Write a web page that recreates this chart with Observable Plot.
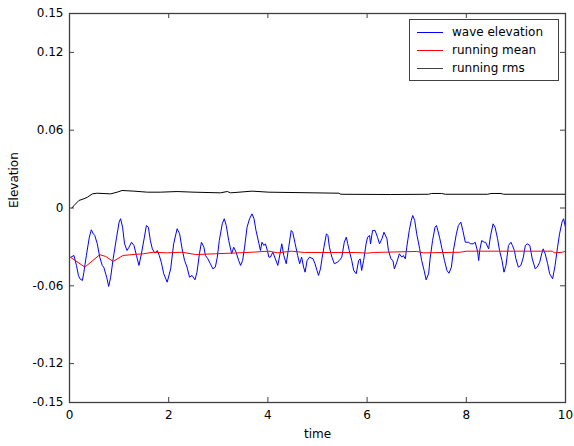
<!DOCTYPE html>
<html>
<head>
<meta charset="utf-8">
<script src="https://cdn.jsdelivr.net/npm/d3@7"></script>
<script src="https://cdn.jsdelivr.net/npm/@observablehq/plot@0.6"></script>
<style>
  html, body { margin: 0; padding: 0; background: #fff; }
  #wrap { position: relative; width: 574px; height: 446px; font-family: "DejaVu Sans", "Liberation Sans", Arial, sans-serif; }
  #legend { position: absolute; left: 409px; top: 19px; width: 150px; height: 62px; box-sizing: border-box;
            border: 1px solid #404040; background: #fff; font-size: 12px; color: #000; }
  .row { position: absolute; left: 0; height: 16px; width: 100%; }
  .swatch { position: absolute; left: 7px; top: 8px; width: 26px; height: 1px; }
  .lab { position: absolute; left: 42px; top: 0; line-height: 16px; white-space: nowrap; }
</style>
</head>
<body>
<div id="wrap"><div id="legend"></div></div>
<script>
// ---- data ----
const xTicks = [0, 2, 4, 6, 8, 10];
const xLabels = ["0", "2", "4", "6", "8", "10"];
const yTicks = [-0.15, -0.12, -0.06, 0, 0.06, 0.12, 0.15];
const yLabels = ["-0.15", "-0.12", "-0.06", "0", "0.06", "0.12", "0.15"];
const seriesNames = ["wave elevation", "running mean", "running rms"];
const seriesColors = ["#0000ff", "#ff0000", "#000000"];
const legendColors = ["#0000ff", "#ff0000", "#404040"];
const xLabel = "time";
const yLabel = "Elevation";

// [time, elevation]
const waveElevation = [
[0.03,-0.0379],[0.09,-0.0366],[0.14,-0.0443],[0.18,-0.0520],[0.21,-0.0546],[0.26,-0.0559],[0.29,-0.0495],[0.34,-0.0366],
[0.40,-0.0225],[0.44,-0.0168],[0.48,-0.0199],[0.51,-0.0212],[0.56,-0.0276],[0.61,-0.0379],[0.66,-0.0443],[0.69,-0.0456],
[0.75,-0.0534],[0.79,-0.0605],[0.83,-0.0534],[0.88,-0.0392],[0.95,-0.0225],[1.00,-0.0109],[1.03,-0.0083],[1.07,-0.0148],
[1.11,-0.0276],[1.16,-0.0328],[1.20,-0.0302],[1.25,-0.0264],[1.30,-0.0289],[1.35,-0.0366],[1.40,-0.0443],[1.45,-0.0353],
[1.51,-0.0225],[1.55,-0.0135],[1.59,-0.0148],[1.63,-0.0251],[1.67,-0.0315],[1.72,-0.0348],[1.77,-0.0328],[1.81,-0.0366],
[1.85,-0.0418],[1.90,-0.0507],[1.97,-0.0572],[2.04,-0.0469],[2.10,-0.0276],[2.17,-0.0160],[2.22,-0.0199],[2.27,-0.0315],
[2.32,-0.0405],[2.37,-0.0456],[2.42,-0.0534],[2.47,-0.0520],[2.53,-0.0554],[2.57,-0.0495],[2.62,-0.0353],[2.66,-0.0264],
[2.71,-0.0302],[2.74,-0.0366],[2.79,-0.0392],[2.84,-0.0430],[2.89,-0.0469],[2.94,-0.0456],[2.98,-0.0379],[3.02,-0.0251],
[3.08,-0.0122],[3.12,-0.0083],[3.16,-0.0135],[3.21,-0.0251],[3.27,-0.0353],[3.31,-0.0302],[3.36,-0.0341],[3.41,-0.0405],
[3.45,-0.0443],[3.49,-0.0405],[3.53,-0.0302],[3.58,-0.0148],[3.63,-0.0083],[3.68,-0.0045],[3.72,-0.0083],[3.76,-0.0173],
[3.82,-0.0276],[3.85,-0.0328],[3.88,-0.0264],[3.92,-0.0289],[3.95,-0.0276],[3.99,-0.0328],[4.02,-0.0379],[4.05,-0.0379],
[4.10,-0.0341],[4.15,-0.0392],[4.20,-0.0443],[4.25,-0.0341],[4.28,-0.0276],[4.32,-0.0366],[4.37,-0.0430],[4.42,-0.0302],
[4.47,-0.0173],[4.50,-0.0187],[4.55,-0.0276],[4.60,-0.0366],[4.64,-0.0430],[4.68,-0.0379],[4.72,-0.0456],[4.75,-0.0495],
[4.79,-0.0405],[4.84,-0.0379],[4.91,-0.0392],[4.95,-0.0430],[4.99,-0.0482],[5.02,-0.0520],[5.06,-0.0469],[5.09,-0.0392],
[5.13,-0.0302],[5.18,-0.0199],[5.21,-0.0212],[5.24,-0.0302],[5.29,-0.0379],[5.34,-0.0430],[5.40,-0.0418],[5.44,-0.0405],
[5.49,-0.0379],[5.54,-0.0264],[5.58,-0.0225],[5.61,-0.0276],[5.64,-0.0328],[5.69,-0.0405],[5.73,-0.0482],[5.78,-0.0507],
[5.83,-0.0405],[5.86,-0.0392],[5.89,-0.0482],[5.93,-0.0405],[5.98,-0.0276],[6.01,-0.0225],[6.05,-0.0212],[6.07,-0.0276],
[6.11,-0.0173],[6.16,-0.0173],[6.21,-0.0225],[6.25,-0.0276],[6.30,-0.0237],[6.34,-0.0187],[6.40,-0.0237],[6.43,-0.0328],
[6.48,-0.0392],[6.52,-0.0405],[6.55,-0.0469],[6.60,-0.0418],[6.65,-0.0353],[6.70,-0.0379],[6.73,-0.0366],[6.77,-0.0392],
[6.80,-0.0302],[6.85,-0.0173],[6.89,-0.0096],[6.92,-0.0058],[6.96,-0.0096],[7.00,-0.0199],[7.06,-0.0315],[7.10,-0.0405],
[7.15,-0.0482],[7.19,-0.0554],[7.24,-0.0507],[7.27,-0.0392],[7.32,-0.0251],[7.37,-0.0148],[7.40,-0.0135],[7.46,-0.0225],
[7.51,-0.0315],[7.56,-0.0405],[7.61,-0.0482],[7.65,-0.0503],[7.70,-0.0456],[7.74,-0.0328],[7.80,-0.0199],[7.84,-0.0135],
[7.89,-0.0109],[7.93,-0.0173],[7.98,-0.0264],[8.04,-0.0264],[8.09,-0.0276],[8.14,-0.0276],[8.18,-0.0264],[8.23,-0.0341],
[8.25,-0.0405],[8.27,-0.0328],[8.31,-0.0251],[8.36,-0.0264],[8.39,-0.0264],[8.45,-0.0315],[8.49,-0.0212],[8.54,-0.0122],
[8.58,-0.0148],[8.63,-0.0237],[8.67,-0.0328],[8.72,-0.0405],[8.76,-0.0495],[8.80,-0.0443],[8.85,-0.0289],[8.90,-0.0264],
[8.93,-0.0289],[8.97,-0.0328],[9.00,-0.0392],[9.05,-0.0456],[9.10,-0.0443],[9.15,-0.0379],[9.19,-0.0289],[9.23,-0.0276],
[9.28,-0.0289],[9.33,-0.0392],[9.39,-0.0469],[9.43,-0.0456],[9.48,-0.0418],[9.52,-0.0353],[9.55,-0.0315],[9.59,-0.0353],
[9.64,-0.0430],[9.68,-0.0507],[9.74,-0.0546],[9.79,-0.0443],[9.84,-0.0302],[9.88,-0.0199],[9.93,-0.0109],[9.96,-0.0083],
[10.00,-0.0148]
];

const runningMean = [
[0.02,-0.0380],[0.31,-0.0456],[0.61,-0.0360],[0.73,-0.0374],[0.88,-0.0412],[1.08,-0.0366],[1.28,-0.0359],[1.49,-0.0353],
[1.69,-0.0341],[1.96,-0.0346],[2.27,-0.0341],[2.54,-0.0359],[2.94,-0.0353],[3.28,-0.0348],[3.68,-0.0341],[4.02,-0.0333],
[4.20,-0.0346],[4.47,-0.0333],[4.74,-0.0343],[5.28,-0.0343],[5.78,-0.0343],[6.01,-0.0348],[6.13,-0.0343],[7.00,-0.0335],
[7.14,-0.0346],[7.88,-0.0341],[8.01,-0.0333],[9.74,-0.0333],[9.77,-0.0346],[9.94,-0.0341],[10.00,-0.0333]
];

const runningRms = [
[0.05,0.0000],[0.09,0.0019],[0.19,0.0058],[0.29,0.0071],[0.36,0.0083],[0.46,0.0109],[0.56,0.0114],[0.83,0.0109],
[0.96,0.0122],[1.06,0.0135],[1.30,0.0130],[1.57,0.0122],[1.83,0.0122],[2.17,0.0127],[2.51,0.0122],[3.04,0.0117],
[3.18,0.0127],[3.25,0.0117],[3.68,0.0130],[4.02,0.0122],[5.43,0.0114],[5.47,0.0106],[6.47,0.0104],[7.24,0.0106],
[7.30,0.0112],[7.50,0.0112],[7.58,0.0106],[8.43,0.0106],[8.50,0.0112],[8.70,0.0112],[8.75,0.0106],[10.00,0.0106]
];

// ---- layout ----
const W = 574, H = 446;
const mL = 69, mR = 9, mT = 13, mB = 44;
const plotW = W - mL - mR, plotH = H - mT - mB;
const axisColor = "#404040";
const tickLen = 5;

const chart = Plot.plot({
  width: W, height: H,
  marginLeft: mL, marginRight: mR, marginTop: mT, marginBottom: mB,
  style: { fontFamily: '"DejaVu Sans", "Liberation Sans", Arial, sans-serif', fontSize: "12px", color: "#000", background: "transparent" },
  x: { domain: [0, 10] },
  y: { domain: [-0.15, 0.15] },
  marks: [
    Plot.line(waveElevation, { x: d => d[0], y: d => d[1], stroke: seriesColors[0], strokeWidth: 1 }),
    Plot.line(runningMean, { x: d => d[0], y: d => d[1], stroke: seriesColors[1], strokeWidth: 1 }),
    Plot.line(runningRms, { x: d => d[0], y: d => d[1], stroke: seriesColors[2], strokeWidth: 1 }),
    Plot.frame({ stroke: axisColor, strokeWidth: 1.3 }),
    Plot.tickX(xTicks, { x: d => d, insetTop: plotH - tickLen, stroke: axisColor }),
    Plot.tickX(xTicks, { x: d => d, insetBottom: plotH - tickLen, stroke: axisColor }),
    Plot.tickY(yTicks, { y: d => d, insetRight: plotW - tickLen, stroke: axisColor }),
    Plot.tickY(yTicks, { y: d => d, insetLeft: plotW - tickLen, stroke: axisColor }),
    Plot.axisX({ ticks: xTicks, tickSize: 0, tickPadding: 8, tickFormat: d => xLabels[xTicks.indexOf(d)], label: null }),
    Plot.axisY({ ticks: yTicks, tickSize: 0, tickPadding: 6, tickFormat: d => yLabels[yTicks.indexOf(d)], label: null }),
    Plot.text([xLabel], { text: d => d, frameAnchor: "bottom", dy: 35, fill: "#000" }),
    Plot.text([yLabel], { text: d => d, frameAnchor: "left", dx: -55, rotate: -90, fill: "#000" })
  ]
});
document.getElementById("wrap").prepend(chart);

// legend
const leg = document.getElementById("legend");
const rowTops = [4, 22, 40];
seriesNames.forEach((name, i) => {
  const row = document.createElement("div");
  row.className = "row";
  row.style.top = rowTops[i] + "px";
  const sw = document.createElement("div");
  sw.className = "swatch";
  sw.style.background = legendColors[i];
  const lab = document.createElement("div");
  lab.className = "lab";
  lab.textContent = name;
  row.appendChild(sw); row.appendChild(lab);
  leg.appendChild(row);
});
</script>
</body>
</html>
